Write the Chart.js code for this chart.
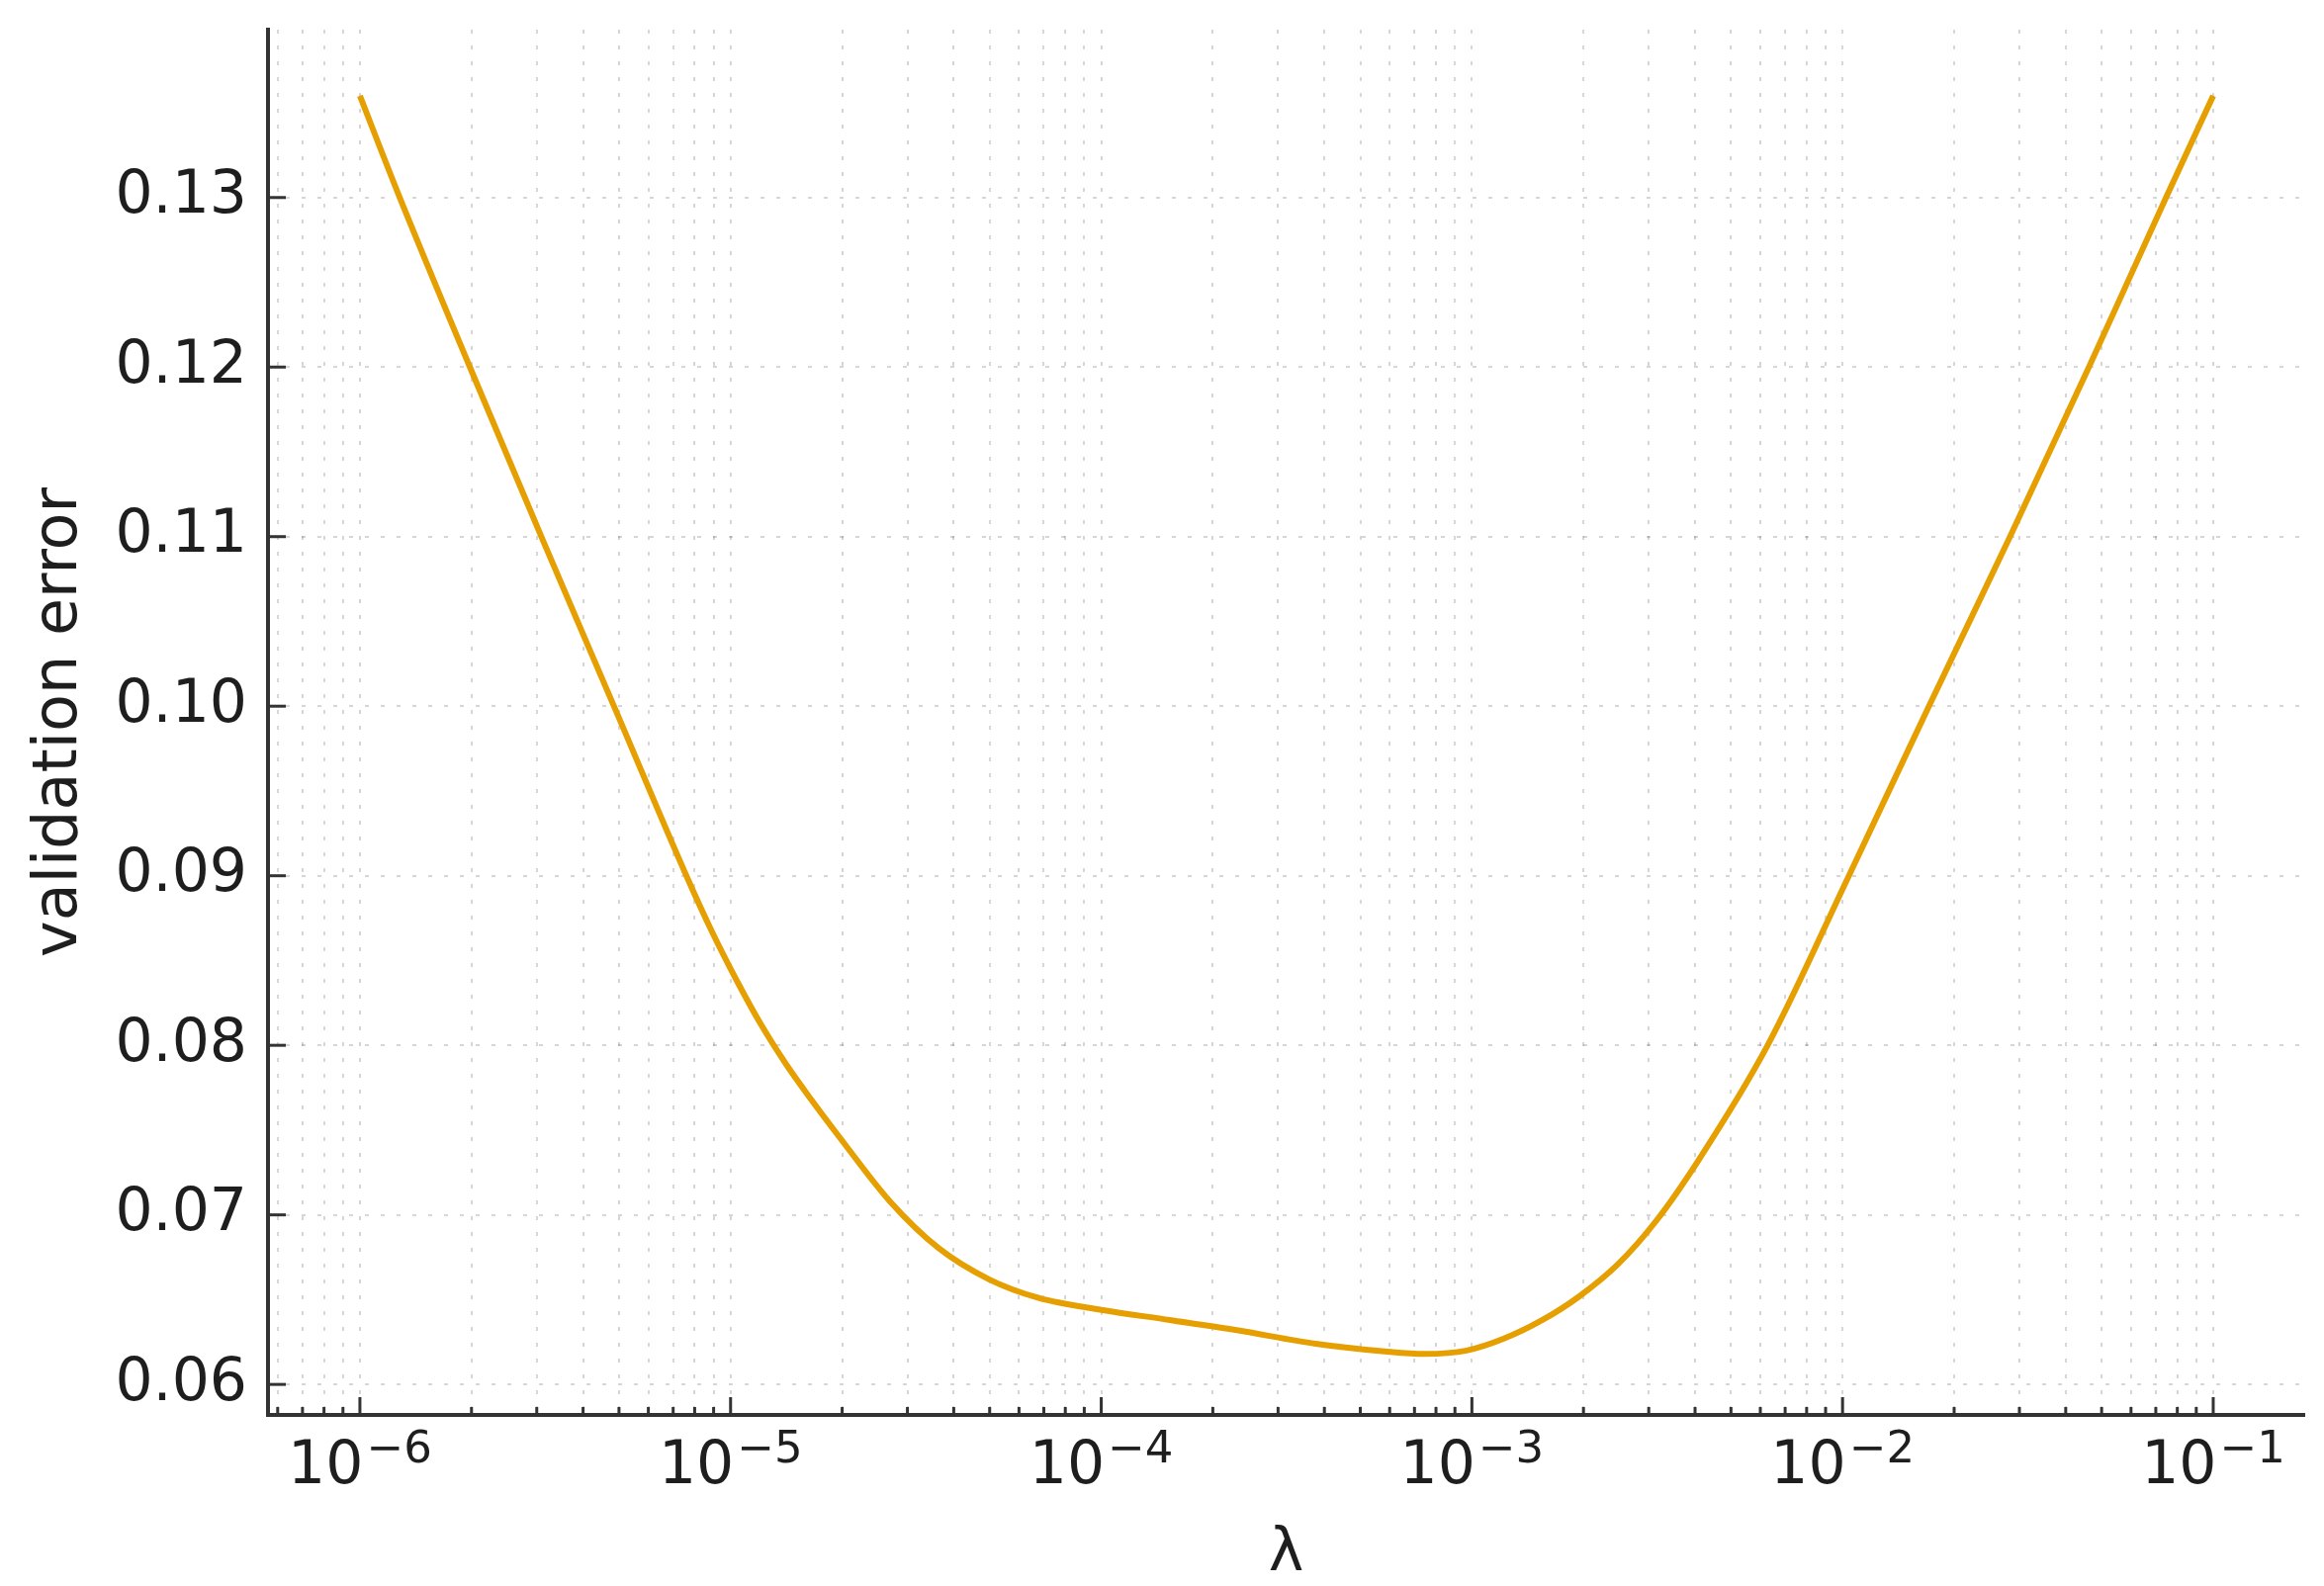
<!DOCTYPE html>
<html>
<head>
<meta charset="utf-8">
<script src="https://cdn.jsdelivr.net/npm/chart.js@4.4.1/dist/chart.umd.min.js"></script>
<style>
    html, body { margin: 0; padding: 0; background: #ffffff; }
    #box { width: 2350px; height: 1604px; }
</style>
</head>
<body>
<div id="box"><canvas id="ChartLambda" width="2350" height="1604"></canvas></div>
<script>

/// DADOS

const lambda_valores = [
    1.0e-6, 1.27e-6, 1.98e-6, 3.10e-6, 4.89e-6, 7.60e-6,
    8.91e-6, 1.04e-5, 1.21e-5, 1.41e-5, 1.65e-5, 1.98e-5,
    2.69e-5, 3.66e-5, 4.98e-5, 6.78e-5, 1.0e-4,
    1.53e-4, 2.32e-4, 3.79e-4, 5.82e-4, 7.45e-4, 9.68e-4,
    1.22e-3, 1.55e-3, 1.95e-3, 2.48e-3, 3.13e-3, 4.08e-3, 6.28e-3,
    1.04e-2, 1.71e-2, 2.83e-2, 4.62e-2, 7.46e-2, 1.0e-1
];

const erro_validacao = [
    0.1360, 0.1302, 0.1200, 0.1099, 0.0998, 0.0900,
    0.0867, 0.0838, 0.0812, 0.0789, 0.0768, 0.0745,
    0.0708, 0.0680, 0.0662, 0.0651, 0.0644,
    0.0638, 0.0632, 0.0624, 0.06195, 0.0618, 0.0620,
    0.0627, 0.0638, 0.0652, 0.0671, 0.0696, 0.0732, 0.0800,
    0.0900, 0.1000, 0.1100, 0.1200, 0.1300, 0.1360
];

const x_ticks_major = [1e-6, 1e-5, 1e-4, 1e-3, 1e-2, 1e-1];
const x_labels_exp = ['\u22126', '\u22125', '\u22124', '\u22123', '\u22122', '\u22121'];
const y_ticks = [0.06, 0.07, 0.08, 0.09, 0.10, 0.11, 0.12, 0.13];

const x_min = 5.65e-7;
const x_max = 0.176;
const y_min = 0.0582;
const y_max = 0.1399;

/// grade menor do eixo x: 1..9 x 10^n
var x_grid = [];
[1e-7, 1e-6, 1e-5, 1e-4, 1e-3, 1e-2, 1e-1].forEach(function (base) {
    for (var m = 1; m <= 9; m++) {
        var v = base * m;
        if (v >= x_min && v <= x_max) {
            x_grid.push(v);
        }
    }
});

var pontos = lambda_valores.map(function (l, i) {
    return { x: l, y: erro_validacao[i] };
});

const fonte = '"DejaVu Sans", sans-serif';
const cor_texto = '#1e1e1e';
const cor_eixo = '#333333';
const cor_grade = 'rgba(0, 0, 0, 0.16)';


/// TICKS PARA DENTRO + ROTULOS 10^n

const eixos_plugin = {
    id: 'eixos_plugin',
    afterDatasetsDraw(chart) {
        const ctx = chart.ctx;
        const sx = chart.scales.x;
        const sy = chart.scales.y;
        const area = chart.chartArea;

        ctx.save();
        ctx.strokeStyle = cor_eixo;
        ctx.lineWidth = 3;

        x_grid.forEach(function (v) {
            const px = sx.getPixelForValue(v);
            const len = x_ticks_major.some(function (m) { return Math.abs(m - v) / m < 1e-6; }) ? 18 : 8;
            ctx.beginPath();
            ctx.moveTo(px, area.bottom);
            ctx.lineTo(px, area.bottom - len);
            ctx.stroke();
        });

        y_ticks.forEach(function (v) {
            const py = sy.getPixelForValue(v);
            ctx.beginPath();
            ctx.moveTo(area.left, py);
            ctx.lineTo(area.left + 18, py);
            ctx.stroke();
        });

        ctx.fillStyle = cor_texto;
        ctx.textBaseline = 'alphabetic';
        ctx.textAlign = 'left';
        x_ticks_major.forEach(function (v, i) {
            const px = sx.getPixelForValue(v);
            ctx.font = '60px ' + fonte;
            const w1 = ctx.measureText('10').width;
            ctx.font = '45px ' + fonte;
            const w2 = ctx.measureText(x_labels_exp[i]).width;
            const inicio = px - (w1 + w2 + 3) / 2;
            ctx.font = '60px ' + fonte;
            ctx.fillText('10', inicio, area.bottom + 69);
            ctx.font = '45px ' + fonte;
            ctx.fillText(x_labels_exp[i], inicio + w1 + 3, area.bottom + 48);
        });

        ctx.restore();
    }
};


/// GRÁFICO

const chart_lambda = document.getElementById('ChartLambda');

new Chart(chart_lambda, {
    type: 'line',
    data: {
        datasets: [{
            label: 'validation error',
            data: pontos,
            borderColor: 'rgb(230, 159, 0)',
            backgroundColor: 'rgb(230, 159, 0)',
            borderWidth: 6,
            pointRadius: 0,
            fill: false,
            cubicInterpolationMode: 'monotone'
        }]
    },
    options: {
        responsive: false,
        maintainAspectRatio: false,
        animation: false,
        devicePixelRatio: 1,
        layout: {
            padding: { top: 30, right: 20, left: 0, bottom: 0 }
        },
        plugins: {
            legend: { display: false },
            tooltip: { enabled: false }
        },
        scales: {
            x: {
                type: 'logarithmic',
                min: x_min,
                max: x_max,
                afterBuildTicks: function (scale) {
                    scale.ticks = x_grid.map(function (v) { return { value: v }; });
                },
                afterFit: function (scale) {
                    scale.height = 173;
                    scale.paddingLeft = 0;
                    scale.paddingRight = 0;
                },
                ticks: { display: false },
                grid: {
                    color: cor_grade,
                    lineWidth: 2,
                    drawTicks: false
                },
                border: {
                    display: true,
                    color: cor_eixo,
                    width: 4,
                    dash: [4, 12]
                },
                title: {
                    display: true,
                    text: 'λ',
                    color: cor_texto,
                    font: { family: fonte, size: 60, lineHeight: 1.0 },
                    padding: { top: 0, bottom: 2 }
                }
            },
            y: {
                type: 'linear',
                min: y_min,
                max: y_max,
                afterBuildTicks: function (scale) {
                    scale.ticks = y_ticks.map(function (v) { return { value: v }; });
                },
                afterFit: function (scale) {
                    scale.width = 271;
                    scale.paddingTop = 0;
                    scale.paddingBottom = 0;
                },
                ticks: {
                    color: cor_texto,
                    font: { family: fonte, size: 60 },
                    padding: 21,
                    callback: function (value) {
                        return Number(value).toFixed(2);
                    }
                },
                grid: {
                    color: cor_grade,
                    lineWidth: 2,
                    drawTicks: false
                },
                border: {
                    display: true,
                    color: cor_eixo,
                    width: 4,
                    dash: [4, 12]
                },
                title: {
                    display: true,
                    text: 'validation error',
                    color: cor_texto,
                    font: { family: fonte, size: 62 },
                    padding: { top: 24, bottom: 0 }
                }
            }
        }
    },
    plugins: [eixos_plugin]
});

</script>
</body>
</html>
